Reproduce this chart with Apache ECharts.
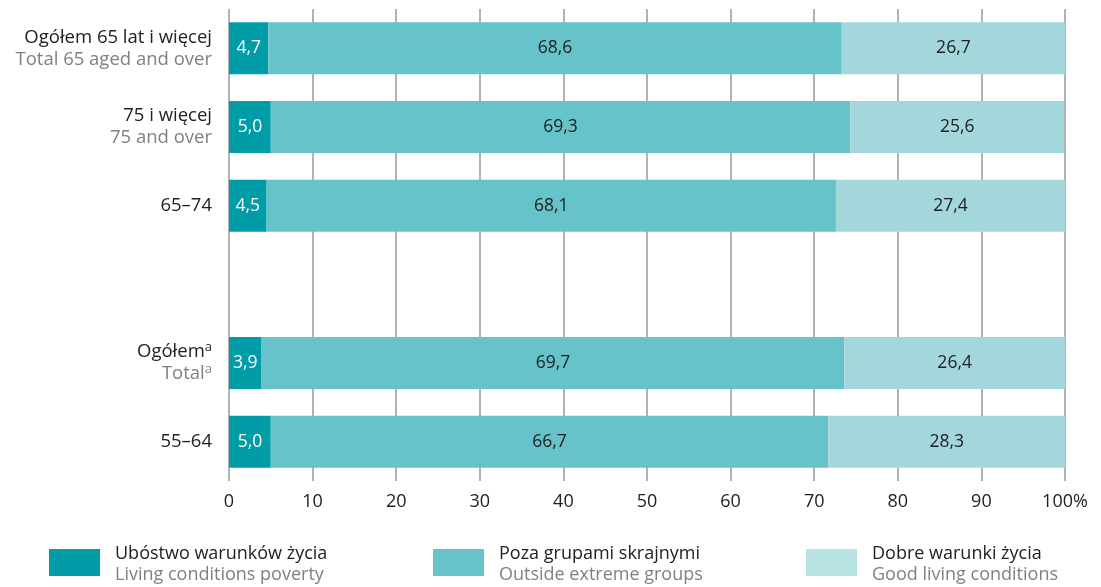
<!DOCTYPE html>
<html>
<head>
<meta charset="utf-8">
<script src="https://cdn.jsdelivr.net/npm/echarts@6/dist/echarts.min.js"></script>
<style>
  html, body { margin: 0; padding: 0; background: #fff; }
  #chart { width: 1101px; height: 587px; }
</style>
</head>
<body>
<div id="chart"></div>
<script>
// kategorie (góra -> dół), pusta pozycja to odstęp między grupami
const catKeys = ['tot65', 'p75', 'p6574', 'gap', 'tot', 'p5564'];
const catPl = ['Ogółem 65 lat i więcej', '75 i więcej', '65–74', '', 'Ogółem', '55–64'];
const catEn = ['Total 65 aged and over', '75 and over', '', '', 'Total', ''];
const catSup = [false, false, false, false, true, false];

const poverty = [4.7, 5.0, 4.5, '-', 3.9, 5.0];
const outside = [68.6, 69.3, 68.1, '-', 69.7, 66.7];
const good = [26.7, 25.6, 27.4, '-', 26.4, 28.3];

const seriesPl = ['Ubóstwo warunków życia', 'Poza grupami skrajnymi', 'Dobre warunki życia'];
const seriesEn = ['Living conditions poverty', 'Outside extreme groups', 'Good living conditions'];

const xTicks = [0, 10, 20, 30, 40, 50, 60, 70, 80, 90, 100];

const colors = ['#009ca8', '#66c3c9', '#a3d7db'];
const legendColors = ['#009ca8', '#66c3c9', '#b8e2e3'];
const FONT = '"Open Sans", sans-serif';

const fmt = v => v.toFixed(1).replace('.', ',');

function catLabel(key) {
  const i = catKeys.indexOf(key);
  if (i < 0 || !catPl[i]) return '';
  let s = '{a|' + catPl[i] + '}' + (catSup[i] ? '{sa|a}' : '');
  if (catEn[i]) s += '\n{b|' + catEn[i] + '}' + (catSup[i] ? '{sb|a}' : '');
  return s;
}

const chart = echarts.init(document.getElementById('chart'));

const series = [poverty, outside, good].map((d, k) => ({
  name: seriesPl[k],
  type: 'bar',
  stack: 'total',
  barWidth: 52,
  data: d,
  itemStyle: { color: colors[k] },
  label: {
    show: true,
    position: 'inside',
    formatter: p => fmt(p.value),
    color: k === 0 ? '#ffffff' : '#222222',
    fontSize: 17.5,
    fontFamily: FONT
  }
}));

const legends = [49, 433, 806].map((left, k) => ({
  left: left,
  top: 538,
  padding: 0,
  orient: 'horizontal',
  itemWidth: 51,
  itemHeight: 27,
  icon: 'rect',
  selectedMode: false,
  data: [{ name: seriesPl[k], itemStyle: { color: legendColors[k] } }],
  formatter: n => '{a|' + n + '}\n{b|' + seriesEn[k] + '}',
  textStyle: {
    fontFamily: FONT,
    rich: {
      a: { fontSize: 18, color: '#222222', lineHeight: 24, padding: [7, 0, 0, 10], fontFamily: FONT },
      b: { fontSize: 18, color: '#808080', lineHeight: 24, padding: [0, 0, 0, 10], fontFamily: FONT }
    }
  }
}));

chart.setOption({
  animation: false,
  backgroundColor: '#ffffff',
  legend: legends,
  grid: { left: 229, right: 36, top: 9, bottom: 106, containLabel: false },
  xAxis: {
    type: 'value',
    min: 0,
    max: 100,
    interval: 10,
    axisLine: { show: false },
    axisTick: { show: false },
    splitLine: { show: true, lineStyle: { color: '#999999', width: 1.5 } },
    axisLabel: {
      margin: 12,
      fontSize: 18,
      color: '#222222',
      fontFamily: FONT,
      customValues: xTicks,
      formatter: v => (v === 100 ? '100%' : String(v))
    }
  },
  yAxis: {
    type: 'category',
    inverse: true,
    data: catKeys,
    axisLine: { show: false },
    axisTick: { show: false },
    axisLabel: {
      margin: 17,
      align: 'right',
      formatter: catLabel,
      rich: {
        a: { fontSize: 18.5, color: '#222222', lineHeight: 22, fontFamily: FONT },
        b: { fontSize: 18.5, color: '#808080', lineHeight: 22, fontFamily: FONT },
        sa: { fontSize: 13, color: '#222222', lineHeight: 22, verticalAlign: 'top', fontFamily: FONT },
        sb: { fontSize: 13, color: '#808080', lineHeight: 22, verticalAlign: 'top', fontFamily: FONT }
      }
    }
  },
  series: series
});
</script>
</body>
</html>
